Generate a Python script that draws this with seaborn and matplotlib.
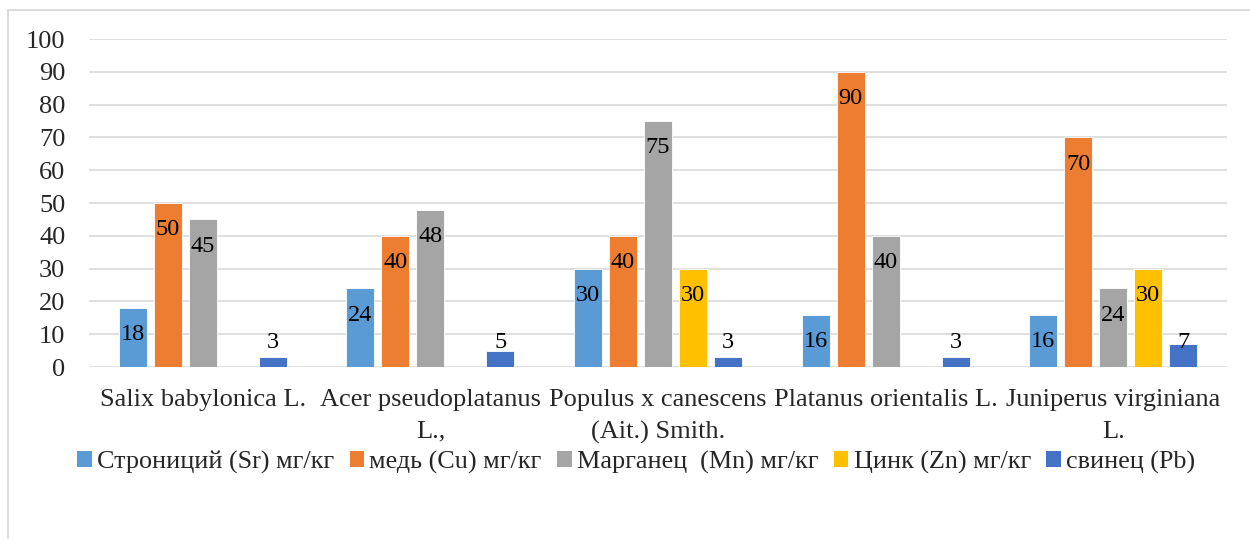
import numpy as np
import pandas as pd
import matplotlib.pyplot as plt
from matplotlib.lines import Line2D
from matplotlib.patches import Patch
import seaborn as sns

species = ["Salix babylonica L.", "Acer pseudoplatanus\nL.,", "Populus x canescens\n(Ait.) Smith.",
           "Platanus orientalis L.", "Juniperus virginiana\nL."]
series = ["Строниций (Sr) мг/кг", "медь (Cu) мг/кг", "Марганец  (Mn) мг/кг",
          "Цинк (Zn) мг/кг", "свинец (Pb)"]
sr = [18, 24, 30, 16, 16]
cu = [50, 40, 40, 90, 70]
mn = [45, 48, 75, 40, 24]
zn = [np.nan, np.nan, 30, np.nan, 30]
pb = [3, 5, 3, 3, 7]
colors = ["#5B9BD5", "#ED7D31", "#A5A5A5", "#FFC000", "#4472C4"]

rows = []
for name, vals in zip(series, [sr, cu, mn, zn, pb]):
    for sp, v in zip(species, vals):
        rows.append({"species": sp, "element": name, "value": v})
df = pd.DataFrame(rows)

sns.set_style("white")
plt.rcParams['font.family'] = ['Liberation Serif', 'DejaVu Serif']

fig = plt.figure(figsize=(12.5, 5.39), dpi=100)
ax = fig.add_axes([0.0712, 0.319, 0.9104, 0.6086])

sns.barplot(data=df, x="species", y="value", hue="element", order=species, hue_order=series,
            palette=colors, saturation=1, width=0.769, gap=0.2, edgecolor="white", linewidth=0.6,
            ax=ax, legend=False)

# data labels, "inside end" like the original
for cont in ax.containers:
    for bar in cont:
        h = bar.get_height()
        if np.isnan(h) or h == 0:
            continue
        y = max(h - 8.2, 7.6)
        ax.text(bar.get_x() + bar.get_width() / 2, y, f"{h:.0f}", ha="center", va="center",
                fontsize=17.5, color="black")

ax.set_ylim(0, 100)
ax.set_yticks(range(0, 101, 10))
ax.set_xlim(-0.5, len(species) - 0.5)
ax.grid(axis="y", color="#D9D9D9", linewidth=1.2)
ax.set_axisbelow(True)
for s in ax.spines.values():
    s.set_visible(False)
ax.tick_params(axis="y", length=0, pad=17, labelsize=19)
ax.tick_params(axis="x", length=0, pad=16, labelsize=19)
for lbl in ax.get_xticklabels():
    lbl.set_linespacing(1.55)
ax.set_xlabel("")
ax.set_ylabel("")

handles = [Patch(facecolor=c, edgecolor="none") for c in colors]
fig.legend(handles, series, loc="center", bbox_to_anchor=(0.509, 0.142), ncol=5, frameon=False,
           fontsize=18.8, handlelength=0.55, handleheight=0.55, handletextpad=0.2, columnspacing=0.6)

# chart area border (top and left visible)
fig.add_artist(Line2D([8 / 1250, 1.0], [1 - 10 / 539] * 2, color="#D9D9D9", lw=1.3,
                      transform=fig.transFigure))
fig.add_artist(Line2D([8 / 1250] * 2, [0, 1 - 10 / 539], color="#D9D9D9", lw=1.3,
                      transform=fig.transFigure))

fig.savefig("out.png", dpi=100)
